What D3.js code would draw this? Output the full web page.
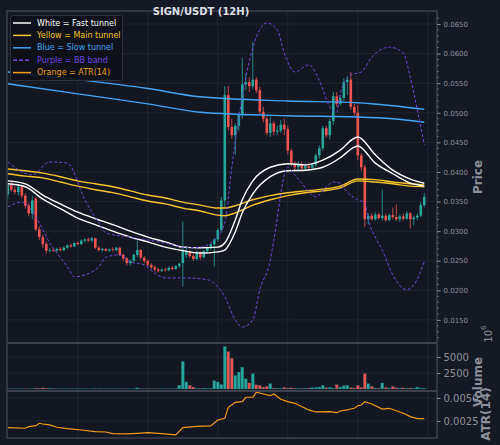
<!DOCTYPE html>
<html>
<head>
<meta charset="utf-8">
<script src="https://cdn.jsdelivr.net/npm/d3@7"></script>
<style>
body { margin: 0; background: #151924; }
svg { display: block; font-family: "DejaVu Sans", sans-serif; }
</style>
</head>
<body>
<div id="chart"></div>
<script>
// SIGN/USDT 12H candles with tunnels, BB, volume and ATR

var opens  = [.0362,.0378,.0370,.0366,.0375,.0360,.0343,.0330,.0355,.0303,.0290,.0278,.0267,.0268,.0267,.0270,.0268,.0272,.0276,.0274,
              .0280,.0278,.0284,.0286,.0284,.0288,.0272,.0268,.0270,.0267,.0269,.0268,.0272,.0260,.0254,.0246,.0250,.0260,.0268,.0255,
              .0250,.0243,.0239,.0235,.0233,.0235,.0234,.0238,.0236,.0241,.0246,.0260,.0266,.0258,.0253,.0264,.0256,.0266,.0272,.0278,
              .0286,.0302,.0352,.0530,.0476,.0462,.0478,.0496,.0548,.0552,.0545,.0556,.0538,.0502,.0490,.0466,.0482,.0468,.0470,.0480,
              .0472,.0436,.0414,.0408,.0412,.0406,.0410,.0407,.0412,.0428,.0440,.0474,.0462,.0486,.0528,.0515,.0525,.0552,.0556,.0510,
              .0500,.0428,.0408,.0320,.0326,.0320,.0328,.0322,.0326,.0319,.0327,.0324,.0320,.0325,.0321,.0330,.0320,.0323,.0326,.0344];
var highs  = [.0382,.0384,.0376,.0380,.0378,.0364,.0348,.0360,.0358,.0308,.0294,.0282,.0272,.0271,.0272,.0273,.0274,.0278,.0279,.0282,
              .0283,.0286,.0288,.0289,.0290,.0289,.0275,.0272,.0272,.0271,.0273,.0274,.0273,.0262,.0256,.0252,.0262,.0284,.0270,.0258,
              .0252,.0246,.0242,.0238,.0237,.0238,.0240,.0241,.0243,.0247,.0316,.0275,.0268,.0265,.0268,.0266,.0268,.0274,.0280,.0288,
              .0305,.0358,.0545,.0545,.0490,.0482,.0500,.0593,.0567,.0560,.0620,.0560,.0544,.0510,.0494,.0493,.0486,.0478,.0488,.0490,
              .0478,.0440,.0418,.0418,.0418,.0414,.0416,.0415,.0432,.0445,.0478,.0478,.0490,.0535,.0535,.0530,.0558,.0562,.0569,.0515,
              .0513,.0432,.0412,.0330,.0330,.0332,.0331,.0370,.0330,.0330,.0340,.0345,.0328,.0330,.0334,.0332,.0326,.0330,.0349,.0364];
var lows   = [.0355,.0366,.0362,.0360,.0356,.0338,.0325,.0320,.0300,.0285,.0272,.0262,.0264,.0265,.0265,.0266,.0266,.0270,.0272,.0273,
              .0276,.0277,.0281,.0282,.0282,.0270,.0266,.0265,.0266,.0265,.0266,.0266,.0258,.0250,.0242,.0242,.0248,.0256,.0252,.0246,
              .0240,.0236,.0232,.0230,.0231,.0232,.0232,.0234,.0235,.0238,.0206,.0255,.0255,.0250,.0251,.0252,.0254,.0262,.0268,.0240,
              .0282,.0298,.0340,.0470,.0456,.0429,.0470,.0490,.0538,.0535,.0540,.0533,.0498,.0484,.0462,.0459,.0462,.0462,.0466,.0462,
              .0430,.0410,.0403,.0402,.0404,.0402,.0404,.0403,.0408,.0422,.0436,.0458,.0455,.0480,.0510,.0512,.0520,.0530,.0505,.0495,
              .0420,.0402,.0307,.0312,.0318,.0318,.0320,.0318,.0316,.0316,.0320,.0317,.0316,.0318,.0319,.0305,.0310,.0318,.0324,.0340];
var closes = [.0378,.0370,.0366,.0375,.0360,.0343,.0330,.0352,.0303,.0290,.0278,.0267,.0268,.0267,.0270,.0268,.0272,.0276,.0274,.0280,
              .0278,.0284,.0286,.0284,.0288,.0272,.0268,.0270,.0267,.0269,.0268,.0272,.0260,.0254,.0246,.0250,.0260,.0268,.0255,.0250,
              .0243,.0239,.0235,.0233,.0235,.0234,.0238,.0236,.0241,.0245,.0268,.0266,.0258,.0253,.0264,.0256,.0266,.0272,.0278,.0286,
              .0302,.0352,.0530,.0476,.0462,.0478,.0496,.0548,.0552,.0545,.0556,.0538,.0502,.0490,.0466,.0482,.0468,.0470,.0480,.0472,
              .0436,.0414,.0408,.0412,.0406,.0410,.0407,.0412,.0428,.0440,.0474,.0462,.0486,.0528,.0515,.0525,.0552,.0556,.0510,.0500,
              .0428,.0408,.0320,.0326,.0320,.0328,.0322,.0326,.0319,.0327,.0324,.0320,.0325,.0321,.0330,.0320,.0323,.0326,.0344,.0358];
// volume in units of 1e6
var volumes = [30,40,30,50,40,60,50,40,150,120,180,140,120,100,40,30,50,40,30,50,
               40,30,50,40,30,60,40,30,40,50,30,40,50,40,30,40,60,180,50,40,
               50,40,30,50,40,60,50,40,70,600,4300,1100,600,300,120,100,140,90,130,1300,
               1100,700,6650,5850,4800,2100,2650,3400,1600,950,2400,650,580,300,400,830,150,120,100,260,
               150,180,120,100,90,120,150,200,250,300,580,200,250,150,680,300,520,560,200,150,
               560,260,2400,830,420,150,120,940,260,150,420,200,150,180,130,160,120,300,150,120];

// tunnels and bands, read as [candle index, price]
var whiteUpper = [[0,.0385],[5,.0380],[10,.0361],[15,.0346],[20,.0332],[25,.0321],[30,.0311],[35,.0300],[40,.0290],[45,.0282],[50,.0273],[55,.0272],[60,.0273],[62,.0280],[65,.0319],[67,.0353],[70,.0385],[75,.0408],[80,.0414],[85,.0412],[90,.0420],[95,.0437],[99,.0457],[100,.0459],[105,.0429],[110,.0403],[115,.0388],[119,.0381]];
var whiteLower = [[0,.0380],[5,.0375],[10,.0354],[15,.0338],[20,.0322],[25,.0311],[30,.0300],[35,.0290],[40,.0282],[45,.0273],[50,.0267],[55,.0263],[60,.0265],[62,.0268],[65,.0299],[67,.0331],[70,.0363],[75,.0392],[80,.0402],[85,.0403],[90,.0408],[95,.0424],[99,.0442],[100,.0444],[105,.0415],[110,.0397],[115,.0381],[119,.0376]];
var yellowUpper = [[0,.0405],[5,.0402],[10,.0398],[15,.0392],[20,.0385],[25,.0380],[30,.0375],[35,.0368],[40,.0361],[45,.0356],[50,.0349],[55,.0344],[60,.0339],[62,.0339],[65,.0343],[70,.0353],[75,.0360],[80,.0365],[85,.0368],[90,.0371],[95,.0376],[100,.0388],[105,.0387],[110,.0383],[115,.0380],[119,.0378]];
var yellowLower = [[0,.0397],[5,.0393],[10,.0390],[15,.0383],[20,.0376],[25,.0370],[30,.0365],[35,.0358],[40,.0351],[45,.0346],[50,.0339],[55,.0334],[60,.0327],[62,.0326],[65,.0331],[70,.0344],[75,.0353],[80,.0360],[85,.0365],[90,.0368],[95,.0373],[100,.0385],[105,.0383],[110,.0380],[115,.0376],[119,.0375]];
var blueUpper = [[0,.0569],[20,.0556],[40,.0541],[55,.0527],[80,.0520],[100,.0517],[110,.0512],[119,.0506]];
var blueLower = [[0,.0549],[20,.0532],[40,.0515],[55,.0501],[80,.0495],[100,.0493],[110,.0490],[119,.0484]];
var bbUpper = [[0,.0417],[7,.0395],[12,.0417],[17,.0415],[22,.0353],[26,.0314],[28,.0297],[35,.0290],[40,.0285],[45,.0280],[51,.0272],[55,.0273],[59,.0285],[62,.0314],[64,.0408],[68,.0560],[71,.0628],[74,.0652],[77,.0640],[79,.0601],[82,.0569],[86,.0581],[89,.0555],[92,.0510],[94,.0501],[95,.0533],[98,.0564],[101,.0569],[104,.0594],[109,.0611],[113,.0601],[115,.0560],[117,.0505],[119,.0446]];
var bbLower = [[0,.0341],[4,.0349],[8,.0324],[12,.0280],[17,.0240],[19,.0223],[22,.0226],[26,.0240],[28,.0256],[32,.0260],[35,.0248],[39,.0243],[42,.0229],[45,.0221],[51,.0221],[57,.0218],[60,.0206],[62,.0189],[65,.0150],[67,.0138],[70,.0150],[72,.0201],[75,.0251],[76,.0285],[80,.0408],[82,.0395],[84,.0381],[88,.0358],[91,.0375],[93,.0383],[95,.0381],[97,.0366],[100,.0353],[102,.0348],[103,.0319],[105,.0290],[107,.0268],[110,.0226],[114,.0201],[116,.0209],[119,.0248]];
var atr = [[0,.00177],[5,.00171],[6,.00188],[8,.00199],[9,.00225],[10,.00217],[12,.00207],[14,.00182],[17,.00166],[21,.00152],[25,.00134],[28,.00130],[30,.00112],[34,.00109],[37,.00116],[40,.00123],[43,.00116],[48,.00098],[50,.00177],[54,.00192],[58,.00196],[60,.00261],[62,.00279],[63,.00399],[65,.00453],[67,.00460],[68,.00508],[70,.00508],[71,.00562],[73,.00543],[75,.00525],[76,.00543],[78,.00486],[80,.00460],[82,.00442],[86,.00370],[88,.00348],[92,.00351],[94,.00340],[95,.00359],[97,.00370],[98,.00380],[99,.00388],[100,.00416],[101,.00424],[102,.00460],[104,.00435],[107,.00380],[109,.00388],[113,.00334],[115,.00297],[117,.00275],[119,.00275]];

var priceTicks = [0.015,0.020,0.025,0.030,0.035,0.040,0.045,0.050,0.055,0.060,0.065];
var volTicks = [2500,5000];
var atrTicks = [0.0025,0.0050];
var dateGrid = [20,40,60,80,100,120];

var legendItems = [
	{label: 'White = Fast tunnel', color: '#ffffff', dash: null},
	{label: 'Yellow = Main tunnel', color: '#f7c52b', dash: null},
	{label: 'Blue = Slow tunnel', color: '#42a5f5', dash: null},
	{label: 'Purple = BB band', color: '#7446e0', dash: '4,2'},
	{label: 'Orange = ATR(14)', color: '#f39c12', dash: null}
];

var W = 500, H = 445,
	left = 7, right = 437,
	panels = {price: [11, 343], vol: [343, 391], atr: [391, 438]},
	up = '#26a69a', down = '#ef5350',
	gridColor = '#252a35', spineColor = '#3d414c', tickColor = '#8c909a';

var svg = d3.select('#chart').append('svg').attr('width', W).attr('height', H);
svg.append('rect').attr('width', W).attr('height', H).attr('fill', '#151924');

var x = d3.scaleLinear().domain([-0.23, 122.63]).range([left, right]);
var yP = d3.scaleLinear().domain([0.0111, 0.0672]).range([panels.price[1], panels.price[0]]);
var yV = d3.scaleLinear().domain([-312, 7187]).range([panels.vol[1], panels.vol[0]]);
var yA = d3.scaleLinear().domain([0.00065, 0.00576]).range([panels.atr[1], panels.atr[0]]);

// panel backgrounds + clip paths
Object.keys(panels).forEach(function (k) {
	var p = panels[k];
	svg.append('rect').attr('x', left).attr('y', p[0]).attr('width', right - left).attr('height', p[1] - p[0])
		.attr('fill', '#131722');
	svg.append('clipPath').attr('id', 'clip-' + k).append('rect')
		.attr('x', left).attr('y', p[0]).attr('width', right - left).attr('height', p[1] - p[0]);
});

// grid
var grid = svg.append('g').attr('stroke', gridColor).attr('stroke-width', 0.8);
dateGrid.forEach(function (i) {
	grid.append('line').attr('x1', x(i)).attr('x2', x(i)).attr('y1', panels.price[0]).attr('y2', panels.atr[1]);
});
priceTicks.forEach(function (t) {
	grid.append('line').attr('x1', left).attr('x2', right).attr('y1', yP(t)).attr('y2', yP(t));
});
volTicks.forEach(function (t) {
	grid.append('line').attr('x1', left).attr('x2', right).attr('y1', yV(t)).attr('y2', yV(t));
});
atrTicks.forEach(function (t) {
	grid.append('line').attr('x1', left).attr('x2', right).attr('y1', yA(t)).attr('y2', yA(t));
});

// candles
var idx = d3.range(opens.length);
var cg = svg.append('g').attr('clip-path', 'url(#clip-price)');
cg.selectAll('line.wick').data(idx).enter().append('line')
	.attr('class', 'wick')
	.attr('x1', function (i) { return x(i); }).attr('x2', function (i) { return x(i); })
	.attr('y1', function (i) { return yP(highs[i]); }).attr('y2', function (i) { return yP(lows[i]); })
	.attr('stroke', function (i) { return closes[i] >= opens[i] ? up : down; })
	.attr('stroke-width', 0.8);
cg.selectAll('rect.body').data(idx).enter().append('rect')
	.attr('class', 'body')
	.attr('x', function (i) { return x(i) - 1.3; })
	.attr('width', 2.6)
	.attr('y', function (i) { return yP(Math.max(opens[i], closes[i])); })
	.attr('height', function (i) { return Math.max(0.8, Math.abs(yP(opens[i]) - yP(closes[i]))); })
	.attr('fill', function (i) { return closes[i] >= opens[i] ? up : down; });

// overlay lines
var line = d3.line().x(function (d) { return x(d[0]); }).y(function (d) { return yP(d[1]); })
	.curve(d3.curveMonotoneX);
function drawLine(g, data, color, width, dash, gen) {
	g.append('path').datum(data).attr('d', gen || line)
		.attr('fill', 'none').attr('stroke', color).attr('stroke-width', width)
		.attr('stroke-dasharray', dash);
}
var lg = svg.append('g').attr('clip-path', 'url(#clip-price)');
drawLine(lg, blueUpper, '#42a5f5', 1.4);
drawLine(lg, blueLower, '#42a5f5', 1.4);
drawLine(lg, yellowUpper, '#f7c52b', 1.4);
drawLine(lg, yellowLower, '#f7c52b', 1.4);
drawLine(lg, whiteUpper, '#ffffff', 1.4);
drawLine(lg, whiteLower, '#ffffff', 1.4);
drawLine(lg, bbUpper, '#7446e0', 1, '3,2');
drawLine(lg, bbLower, '#7446e0', 1, '3,2');

// volume bars
svg.append('g').attr('clip-path', 'url(#clip-vol)')
	.selectAll('rect').data(idx).enter().append('rect')
	.attr('x', function (i) { return x(i) - 1.5; })
	.attr('width', 3)
	.attr('y', function (i) { return yV(volumes[i]); })
	.attr('height', function (i) { return yV(0) - yV(volumes[i]); })
	.attr('fill', function (i) { return closes[i] >= opens[i] ? up : down; })
	.attr('stroke', '#1c5f6e').attr('stroke-width', 0.3);

// ATR line
var atrLine = d3.line().x(function (d) { return x(d[0]); }).y(function (d) { return yA(d[1]); });
drawLine(svg.append('g').attr('clip-path', 'url(#clip-atr)'), atr, '#f39c12', 1.2, null, atrLine);

// spines
var sp = svg.append('g').attr('stroke', spineColor).attr('fill', 'none');
sp.append('rect').attr('x', left).attr('y', panels.price[0]).attr('width', right - left)
	.attr('height', panels.atr[1] - panels.price[0]).attr('stroke-width', 1.5);
sp.append('line').attr('x1', left).attr('x2', right).attr('y1', panels.vol[0]).attr('y2', panels.vol[0]).attr('stroke-width', 2);
sp.append('line').attr('x1', left).attr('x2', right).attr('y1', panels.atr[0]).attr('y2', panels.atr[0]).attr('stroke-width', 2);

// right axes
function rightAxis(scale, ticks, fmt, size, minors) {
	var g = svg.append('g').attr('transform', 'translate(' + right + ',0)');
	g.call(d3.axisRight(scale).tickValues(ticks).tickFormat(fmt).tickSize(3.5).tickPadding(3));
	g.select('.domain').remove();
	g.selectAll('.tick line').attr('stroke', tickColor);
	g.selectAll('.tick text').attr('fill', tickColor).attr('font-size', size).attr('font-family', 'DejaVu Sans');
	if (minors) {
		g.selectAll('line.minor').data(minors).enter().append('line').attr('class', 'minor')
			.attr('x1', 0).attr('x2', 2).attr('y1', scale).attr('y2', scale)
			.attr('stroke', tickColor).attr('stroke-width', 0.6);
	}
}
var priceMinors = d3.range(12, 67).map(function (v) { return v / 1000; })
	.filter(function (v) { return Math.round(v * 1000) % 5 !== 0; });
rightAxis(yP, priceTicks, d3.format('.4f'), 7, priceMinors);
rightAxis(yV, volTicks, d3.format('d'), 10);
rightAxis(yA, atrTicks, d3.format('.4f'), 10);

// axis labels
function vlabel(text, cx, cy, size, weight) {
	return svg.append('text').attr('transform', 'translate(' + cx + ',' + cy + ') rotate(-90)')
		.attr('text-anchor', 'middle').attr('dominant-baseline', 'central')
		.attr('fill', tickColor).attr('font-size', size).attr('font-weight', weight).text(text);
}
vlabel('Price', 478, 177, 12, 'bold');
vlabel('Volume', 478, 382, 12, 'bold');
vlabel('ATR(14)', 486, 414, 12, 'bold');
var off = vlabel('10', 488, 334, 10, 'normal');
off.append('tspan').attr('dy', -4).attr('font-size', 7).text('6');

// title
svg.append('text').attr('x', 201).attr('y', 15).attr('text-anchor', 'middle')
	.attr('fill', '#dcdfe4').attr('font-size', 10).attr('font-weight', 'bold')
	.text('SIGN/USDT (12H)');

// legend
var leg = svg.append('g');
leg.append('rect').attr('x', 10.5).attr('y', 15.5).attr('width', 112).attr('height', 65).attr('rx', 2)
	.attr('fill', '#0e1118').attr('fill-opacity', 0.9).attr('stroke', '#2e323c');
var rows = leg.selectAll('g.row').data(legendItems).enter().append('g').attr('class', 'row')
	.attr('transform', function (d, i) { return 'translate(0,' + (23 + i * 12.4) + ')'; });
rows.append('line').attr('x1', 13).attr('x2', 31).attr('y1', 0).attr('y2', 0)
	.attr('stroke', function (d) { return d.color; }).attr('stroke-width', 1.5)
	.attr('stroke-dasharray', function (d) { return d.dash; });
rows.append('text').attr('x', 37).attr('y', 0).attr('dominant-baseline', 'central')
	.attr('font-size', 8).attr('fill', function (d) { return d.color; })
	.text(function (d) { return d.label; });
</script>
</body>
</html>
